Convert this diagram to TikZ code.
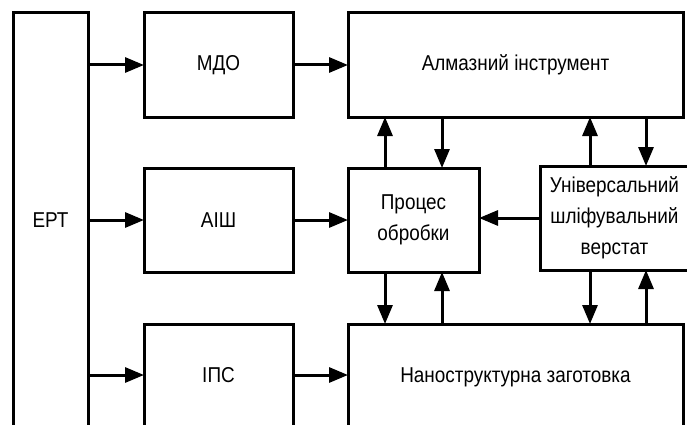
\documentclass[tikz,border=0pt]{standalone}
\usepackage{fontspec}
\setmainfont[FakeStretch=0.88]{Liberation Sans}
\usetikzlibrary{arrows.meta}
\begin{document}
\begin{tikzpicture}[x=1pt,y=-1pt,
 blk/.style={draw,line width=3pt,inner sep=0pt,outer sep=0pt,font=\fontsize{21.5}{31}\selectfont,align=center},
 arr/.style={line width=3pt,-{Triangle[length=19pt,width=15pt]}}]
\useasboundingbox (0,0) rectangle (687,425);
\clip (0,0) rectangle (687,425);
\node[blk,minimum width=75pt,minimum height=414pt] (ert) at (50.5,220) {ЕРТ};
\node[blk,minimum width=149pt,minimum height=104pt] (mdo) at (218.5,65) {МДО};
\node[blk,minimum width=149pt,minimum height=104pt] (aish) at (218.5,220) {АІШ};
\node[blk,minimum width=149pt,minimum height=102pt] (ips) at (218.5,375) {ІПС};
\node[blk,minimum width=335pt,minimum height=104pt] (alm) at (515.5,65) {Алмазний інструмент};
\node[blk,minimum width=131pt,minimum height=104pt] (proc) at (413.5,220) {Процес\\обробки};
\node[blk,minimum width=149pt,minimum height=104pt] (univ) at (614.5,218) {Універсальний\\шліфувальний\\верстат};
\node[blk,minimum width=335pt,minimum height=106pt] (nano) at (515.5,377) {Наноструктурна заготовка};
\draw[arr] (ert.east |- mdo.west) -- (mdo.west);
\draw[arr] (ert.east |- aish.west) -- (aish.west);
\draw[arr] (ert.east |- ips.west) -- (ips.west);
\draw[arr] (mdo.east) -- (mdo.east -| alm.west);
\draw[arr] (aish.east) -- (aish.east -| proc.west);
\draw[arr] (ips.east) -- (ips.east -| nano.west);
\draw[arr] (univ.west) -- (univ.west -| proc.east);
\draw[arr] ([xshift=-28.5pt]proc.north) -- ([xshift=-28.5pt]proc.north |- alm.south);
\draw[arr] ([xshift=28.5pt]proc.north |- alm.south) -- ([xshift=28.5pt]proc.north);
\draw[arr] ([xshift=-28.5pt]proc.south) -- ([xshift=-28.5pt]proc.south |- nano.north);
\draw[arr] ([xshift=28.5pt]proc.south |- nano.north) -- ([xshift=28.5pt]proc.south);
\draw[arr] ([xshift=-24.5pt]univ.north) -- ([xshift=-24.5pt]univ.north |- alm.south);
\draw[arr] ([xshift=31.5pt]univ.north |- alm.south) -- ([xshift=31.5pt]univ.north);
\draw[arr] ([xshift=-24.5pt]univ.south) -- ([xshift=-24.5pt]univ.south |- nano.north);
\draw[arr] ([xshift=31.5pt]univ.south |- nano.north) -- ([xshift=31.5pt]univ.south);
\end{tikzpicture}
\end{document}
